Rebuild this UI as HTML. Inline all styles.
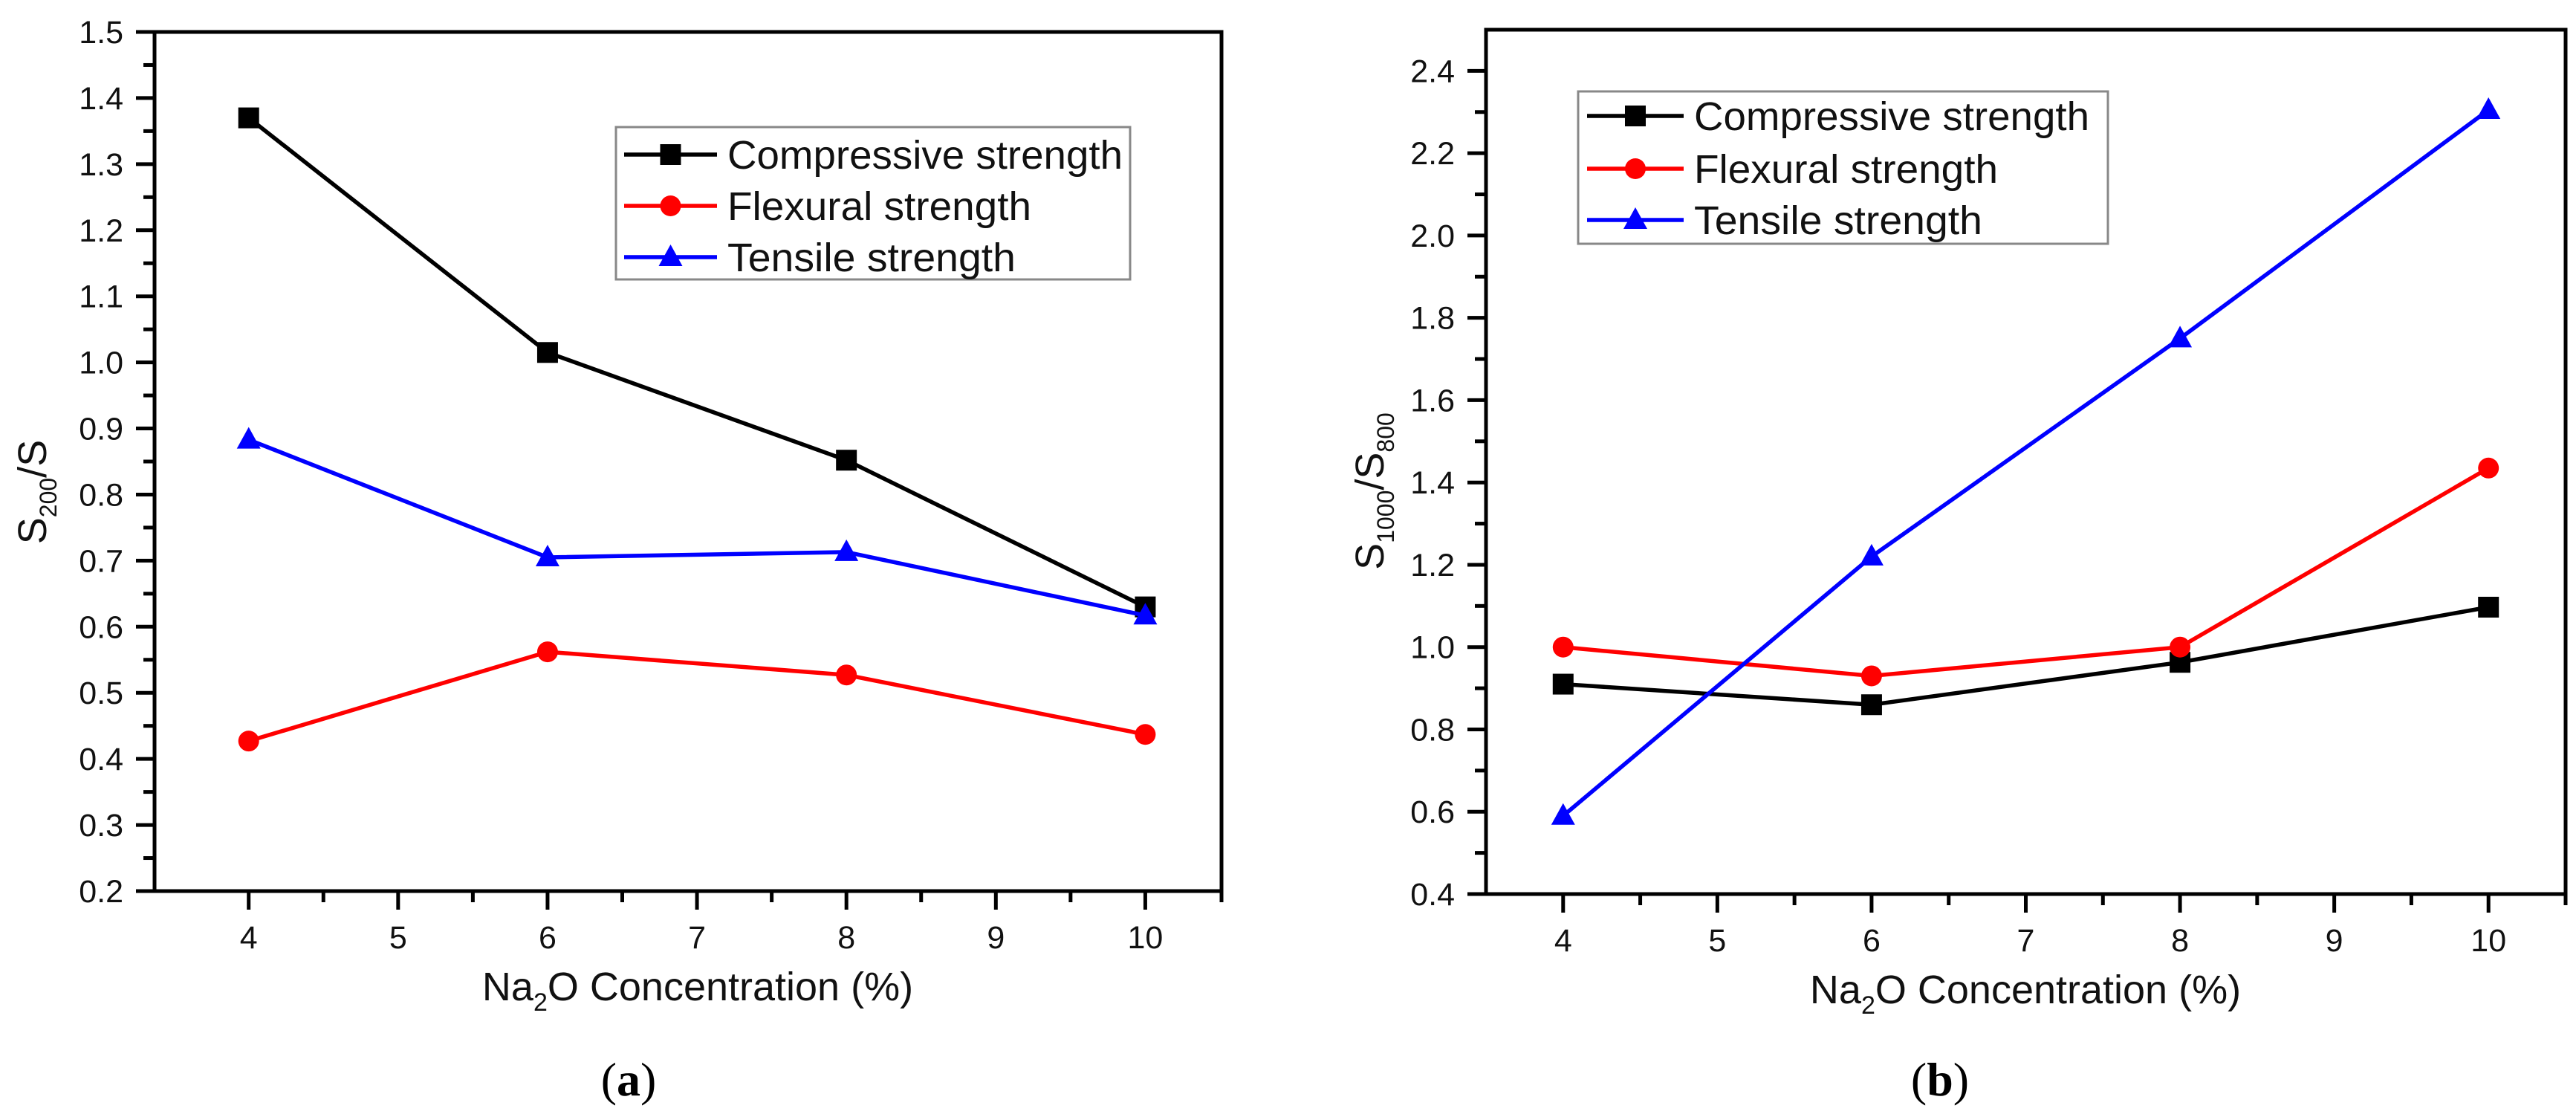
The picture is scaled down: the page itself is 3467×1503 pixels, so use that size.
<!DOCTYPE html>
<html><head><meta charset="utf-8"><style>
html,body{margin:0;padding:0;background:#fff;}
svg{display:block;font-family:"Liberation Sans",Arial,sans-serif;}
</style></head><body>
<svg id="fig" width="3467" height="1503" viewBox="0 0 3467 1503" xmlns="http://www.w3.org/2000/svg"></svg>
<script>
const xCats = [4, 6, 8, 10];
const aCompressive = [1.37, 1.015, 0.852, 0.630];
const aFlexural = [0.427, 0.562, 0.527, 0.437];
const aTensile = [0.883, 0.705, 0.713, 0.617];
const bCompressive = [0.910, 0.860, 0.963, 1.097];
const bFlexural = [1.000, 0.930, 1.000, 1.435];
const bTensile = [0.590, 1.220, 1.750, 2.305];
const aYTicks = ["0.2","0.3","0.4","0.5","0.6","0.7","0.8","0.9","1.0","1.1","1.2","1.3","1.4","1.5"];
const bYTicks = ["0.4","0.6","0.8","1.0","1.2","1.4","1.6","1.8","2.0","2.2","2.4"];
const xTicks = ["4","5","6","7","8","9","10"];
const seriesNames = ["Compressive strength","Flexural strength","Tensile strength"];

const NS = "http://www.w3.org/2000/svg";
const svg = document.getElementById('fig');
function mk(tag, attrs, parent, text){
  const e = document.createElementNS(NS, tag);
  for (const k in attrs) e.setAttribute(k, attrs[k]);
  if (text !== undefined) e.textContent = text;
  (parent || svg).appendChild(e);
  return e;
}
function marker(g, kind, cx, cy, color){
  let m;
  if (kind === 'square') m = mk('rect', {x: cx-14, y: cy-14, width: 28, height: 28, fill: color}, g);
  else if (kind === 'circle') m = mk('circle', {cx: cx, cy: cy, r: 14, fill: color}, g);
  else m = mk('polygon', {points: `${cx},${cy-17} ${cx+16},${cy+12} ${cx-16},${cy+12}`, fill: color}, g);
  return m;
}
function drawPanel(cfg){
  const g = mk('g', {});
  
  
  const X = v => cfg.x0 + (v - cfg.xmin) / (cfg.xmax - cfg.xmin) * (cfg.x1 - cfg.x0);
  const Y = v => cfg.y1 - (v - cfg.ymin) / (cfg.ymax - cfg.ymin) * (cfg.y1 - cfg.y0);
  const fr = mk('rect', {x: cfg.x0, y: cfg.y0, width: cfg.x1-cfg.x0, height: cfg.y1-cfg.y0, fill: 'none', stroke: '#000', 'stroke-width': 5}, g);
  
  
  const yt = mk('g', {}, g);
  
  
  cfg.yTicks.forEach((t, i) => {
    const v = parseFloat(t), y = Y(v);
    mk('line', {x1: cfg.x0-25, x2: cfg.x0, y1: y, y2: y, stroke: '#000', 'stroke-width': 5}, yt);
    const lb = mk('text', {x: cfg.x0-42, y: y+15, 'font-size': 43, 'text-anchor': 'end', fill: '#111'}, yt, t);
    
    
    if (i < cfg.yTicks.length-1) {
      const ym = Y((v + parseFloat(cfg.yTicks[i+1]))/2);
      mk('line', {x1: cfg.x0-15, x2: cfg.x0, y1: ym, y2: ym, stroke: '#000', 'stroke-width': 5}, yt);
    }
  });
  const xt = mk('g', {}, g);
  
  
  xTicks.forEach((t, i) => {
    const v = parseFloat(t), x = X(v);
    mk('line', {x1: x, x2: x, y1: cfg.y1, y2: cfg.y1+25, stroke: '#000', 'stroke-width': 5}, xt);
    const lb = mk('text', {x: x, y: cfg.y1+77, 'font-size': 43, 'text-anchor': 'middle', fill: '#111'}, xt, t);
    
    
    const xm = X(v + 0.5);
    if (i < xTicks.length-1) mk('line', {x1: xm, x2: xm, y1: cfg.y1, y2: cfg.y1+15, stroke: '#000', 'stroke-width': 5}, xt);
  });
  const xe2 = X(cfg.xmax);
  mk('line', {x1: xe2, x2: xe2, y1: cfg.y1, y2: cfg.y1+15, stroke: '#000', 'stroke-width': 5}, xt);
  const xl = mk('text', {x: cfg.xlabelX, y: cfg.y1+147, 'font-size': 54, 'text-anchor': 'middle', fill: '#111'}, g);
  
  
  mk('tspan', {}, xl, 'Na');
  mk('tspan', {'font-size': 34, dy: 14}, xl, '2');
  mk('tspan', {dy: -14}, xl, 'O Concentration (%)');
  const yl = mk('text', {x: 0, y: 0, 'font-size': 54, 'text-anchor': 'middle', fill: '#111', transform: `translate(${cfg.ylabelX},${cfg.ylabelY}) rotate(-90)`}, g);
  
  
  mk('tspan', {}, yl, 'S');
  mk('tspan', {'font-size': 32, dy: 14}, yl, cfg.sub1);
  mk('tspan', {dy: -14}, yl, '/S');
  if (cfg.sub2) mk('tspan', {'font-size': 32, dy: 14}, yl, cfg.sub2);
  const colors = ['#000', '#ff0000', '#0000ff'];
  const kinds = ['square', 'circle', 'triangle'];
  cfg.series.forEach((vals, si) => {
    const sg = mk('g', {}, g);
    
    
    const pts = vals.map((v, i) => `${X(xCats[i])},${Y(v)}`).join(' ');
    mk('polyline', {points: pts, fill: 'none', stroke: colors[si], 'stroke-width': 5.5}, sg);
    vals.forEach((v, i) => {
      const m = marker(sg, kinds[si], X(xCats[i]), Y(v), colors[si]);
      
      
    });
  });
  const L = cfg.legend;
  const lg = mk('g', {}, g);
  
  
  mk('rect', {x: L.x0, y: L.y0, width: L.x1-L.x0, height: L.y1-L.y0, fill: '#fff', stroke: '#888', 'stroke-width': 3}, lg);
  const widths = [532, 409, 388];
  seriesNames.forEach((n, si) => {
    const le = mk('g', {}, lg);
    
    
    const y = L.rows[si];
    mk('line', {x1: L.lx0, x2: L.lx1, y1: y, y2: y, stroke: colors[si], 'stroke-width': 5.5}, le);
    marker(le, kinds[si], (L.lx0+L.lx1)/2, y, colors[si]);
    mk('text', {x: L.tx, y: y+19, 'font-size': 54, fill: '#111', textLength: widths[si], lengthAdjust: 'spacingAndGlyphs'}, le, n);
  });
  return g;
}
drawPanel({name: 'chart-a', x0: 208, x1: 1644, y0: 43, y1: 1199, xmin: 3.37, xmax: 10.51, ymin: 0.2, ymax: 1.5,
  yTicks: aYTicks, sub1: '200', sub2: '', ylabelX: 62, ylabelY: 662, xlabelX: 939,
  series: [aCompressive, aFlexural, aTensile],
  seriesNames: ['series-compressive-a', 'series-flexural-a', 'series-tensile-a'],
  legend: {x0: 829, x1: 1521, y0: 171, y1: 376, rows: [208, 277, 346], lx0: 840, lx1: 965, tx: 979}});
drawPanel({name: 'chart-b', x0: 2000, x1: 3453, y0: 40, y1: 1203, xmin: 3.5, xmax: 10.5, ymin: 0.4, ymax: 2.5,
  yTicks: bYTicks, sub1: '1000', sub2: '800', ylabelX: 1862, ylabelY: 661, xlabelX: 2726,
  series: [bCompressive, bFlexural, bTensile],
  seriesNames: ['series-compressive-b', 'series-flexural-b', 'series-tensile-b'],
  legend: {x0: 2124, x1: 2837, y0: 123, y1: 328, rows: [156, 227, 296], lx0: 2136, lx1: 2266, tx: 2280}});
function cap(x, letter, nm){
  const t = mk('text', {x: x, y: 1474, 'font-size': 64, 'text-anchor': 'middle', fill: '#000', 'font-family': '"Liberation Serif", serif'});
  
  
  mk('tspan', {}, t, '(');
  mk('tspan', {'font-weight': 'bold'}, t, letter);
  mk('tspan', {}, t, ')');
}
cap(846, 'a', 'caption-a');
cap(2611, 'b', 'caption-b');
</script>
</body></html>
